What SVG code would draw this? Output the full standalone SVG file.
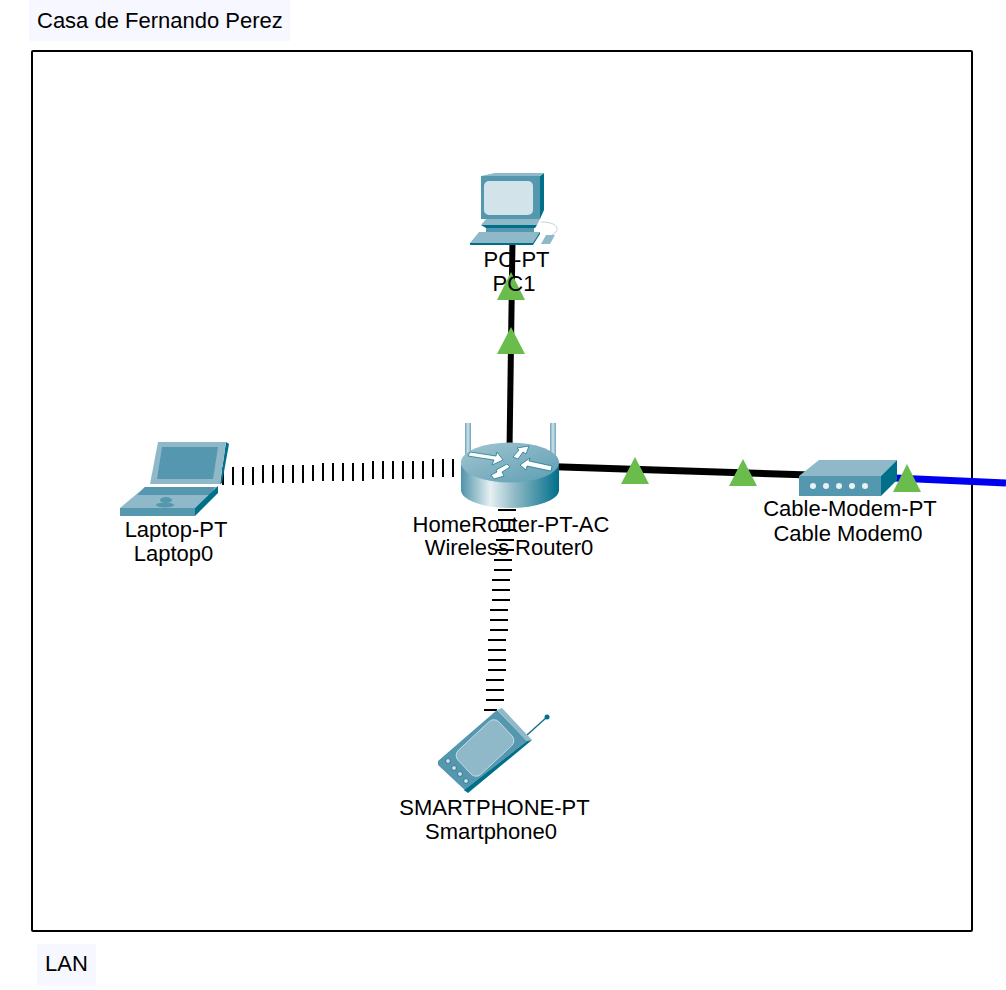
<svg xmlns="http://www.w3.org/2000/svg" width="1006" height="990" viewBox="0 0 1006 990">
<style>
text{font-family:"Liberation Sans",Arial,sans-serif;font-size:22px;fill:#000;text-anchor:middle}
.note{text-anchor:start}
.bg{fill:#f6f7ff}
.link{stroke:#000;stroke-width:6;fill:none}
.wifi{stroke:#000;stroke-width:2;fill:none}
.tri{fill:#6abd4d}
.m{fill:#5497ae}.l{fill:#8fb9c9}.d{fill:#006f8a}.s{fill:#d3e3ea}
</style>
<defs>
<linearGradient id="rb" x1="0" x2="1" y1="0" y2="0">
<stop offset="0" stop-color="#4f93a9"/><stop offset=".3" stop-color="#e6f0f3"/><stop offset=".55" stop-color="#8fb9c6"/><stop offset="1" stop-color="#006f8a"/>
</linearGradient>
<linearGradient id="rt" x1="0" x2="1" y1="0" y2="1">
<stop offset="0" stop-color="#a2c6d2"/><stop offset="1" stop-color="#5d9db2"/>
</linearGradient>
<linearGradient id="ant" x1="0" x2="1" y1="0" y2="0">
<stop offset="0" stop-color="#6aa5b8"/><stop offset=".5" stop-color="#d3e3ea"/><stop offset="1" stop-color="#6aa5b8"/>
</linearGradient>
</defs>
<rect width="1006" height="990" fill="#fff"/>
<g id="zone-top"><rect class="bg" x="29" y="0" width="261" height="41"/><text class="note" x="37" y="28">Casa de Fernando Perez</text></g>
<rect id="frame" x="32" y="51" width="940" height="880" rx="1" fill="none" stroke="#000" stroke-width="2"/>
<g id="zone-bottom"><rect class="bg" x="37" y="944" width="59" height="42"/><text class="note" x="45" y="971">LAN</text></g>
<g id="connectors">
<path class="link" d="M509.5 450L512.5 240"/>
<path class="link" style="stroke-width:7" d="M555 466.8L810 475"/>
<path d="M895 478L1006 483" stroke="#0000f0" stroke-width="7" fill="none"/>
<path class="wifi" d="M223 467v18M233 467v18M243 467v18M253 467v18M263 465v18M273 465v18M283 465v18M293 465v18M303 465v18M313 465v16M323 463v18M333 463v18M343 463v18M353 463v18M363 463v18M373 461v18M383 461v18M393 461v18M403 461v18M413 461v18M423 461v18M433 459v18M443 459v18M453 459v18"/>
<path class="wifi" d="M498 510h18M498 520h18M498 530h18M496 540h18M496 550h18M494 560h18M494 570h18M492 580h18M492 590h18M492 600h18M490 610h18M490 620h18M490 630h18M488 640h18M488 650h18M488 660h18M488 670h18M486 680h18M486 690h18M486 700h18M484 710h13"/>
</g>
<g id="link-lights">
<path class="tri" d="M497 300L511 272L525 300ZM497 354L511 327L525 354ZM621 484L635 457L649 484ZM729 486L743 459L757 486Z"/>
</g>
<g id="PC1">
<path class="d" d="M540 176L544 173V210L540 219Z"/>
<path class="l" d="M481 176L495 173H544L540 176Z"/>
<rect class="m" x="481" y="176" width="59" height="43"/>
<rect class="s" x="484" y="181" width="49" height="34" rx="5"/>
<path class="l" d="M486 219H540L537 225H481Z"/>
<path class="d" d="M481 225H537L535 228H486Z"/>
<path class="m" d="M486 228H534V232H486Z"/>
<path d="M541 222C556 222 559 228 556 232L552 235" stroke="#bcd5de" fill="none"/>
<path class="d" d="M470 243L540 232V234L533 245H470Z"/>
<path class="l" d="M479 232H540L533 243H470Z"/>
<path class="l" d="M546 235H555L550 244H541Z"/>
</g>
<g id="Router0">
<rect x="465" y="423" width="6" height="32" fill="url(#ant)"/>
<rect x="550" y="423" width="6" height="32" fill="url(#ant)"/>
<path d="M461 465V490A49 18 0 0 0 559 490V465Z" fill="url(#rb)"/>
<ellipse cx="510" cy="462.5" rx="49" ry="20" fill="url(#rt)"/>
<g fill="#fff" stroke="#0a6f88" stroke-width=".7">
<path d="M468 456L470 452L496 456L497 452L503 460L492 465L494 460Z"/>
<path d="M520 465L530 458L529 461L552 466L551 471L527 466L526 470Z"/>
<path d="M513 457L519 450L517 448L529 446L526 454L523 452L518 459Z"/>
<path d="M491 475L497 472L496 470L507 464L510 467L502 472L504 476L494 479Z"/>
</g>
</g>
<g id="Laptop0">
<path class="d" d="M226 442L229 444L222 483L220 484Z"/>
<path class="l" d="M158 442H226L220 484H150Z"/>
<path class="m" d="M162 447H218L213 479H157Z"/>
<path class="l" d="M145 487H218L195 508H120Z"/>
<path class="m" d="M145 487H215L210 495H137Z"/>
<ellipse cx="166" cy="500" rx="6" ry="3" class="m"/>
<ellipse cx="165" cy="505" rx="9" ry="2.5" class="m"/>
<path class="m" d="M120 508H195V516H120Z"/>
<path class="d" d="M195 508L218 486V493L195 516Z"/>
</g>
<g id="Smartphone0">
<path d="M527 735L547 717" stroke="#1a7089" stroke-width="1.5"/>
<circle cx="547" cy="717" r="2.5" fill="#006f8a"/>
<path class="m" d="M438 761L497 710L527 741L464 790L468 793L438 765Z"/>
<path class="l" d="M497 710L502 708L532 740L527 741Z"/>
<path class="d" d="M527 741L532 740L468 793L464 790Z"/>
<rect x="457" y="731.5" width="56" height="33" rx="7" transform="rotate(-43 485 748)" fill="#8fb9c9" stroke="#d3e3ea" stroke-width=".8"/>
<g fill="#d3e3ea" stroke="#1a7089" stroke-width=".8"><circle cx="448" cy="761" r="2.4"/><circle cx="454" cy="768" r="2.4"/><circle cx="460" cy="774" r="2.4"/><circle cx="466" cy="781" r="2.4"/></g>
</g>
<g id="Modem0">
<path class="l" d="M799 476L819 460H897L881 476Z"/>
<rect class="m" x="799" y="476" width="82" height="20"/>
<path class="d" d="M881 476L897 460V480L881 496Z"/>
<g fill="#e8f1f4"><circle cx="813" cy="486" r="3"/><circle cx="826" cy="486" r="3"/><circle cx="839" cy="486" r="3"/><circle cx="852" cy="486" r="3"/><circle cx="865" cy="486" r="3"/></g>
</g>
<path class="tri" d="M893 492L907 464L921 492Z"/>
<g id="labels">
<text x="516.5" y="267">PC-PT</text><text x="514" y="291">PC1</text>
<text x="176" y="537">Laptop-PT</text><text x="173.5" y="561">Laptop0</text>
<text x="511" y="532">HomeRouter-PT-AC</text><text x="509" y="555">Wireless Router0</text>
<text x="850" y="516">Cable-Modem-PT</text><text x="848" y="541">Cable Modem0</text>
<text x="494.5" y="815">SMARTPHONE-PT</text><text x="491" y="839">Smartphone0</text>
</g>
</svg>
